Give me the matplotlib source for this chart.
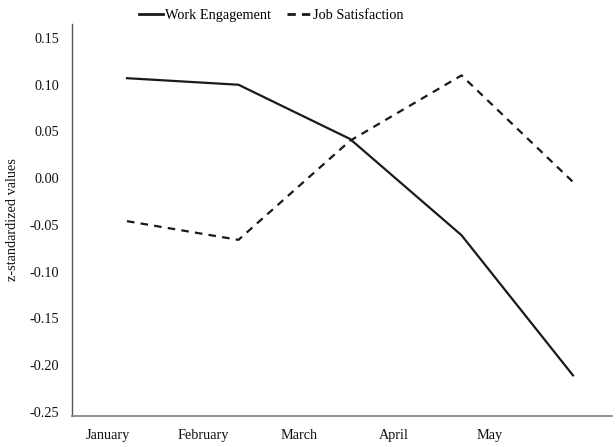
import matplotlib
matplotlib.use("Agg")
import matplotlib.pyplot as plt
from matplotlib.lines import Line2D
import numpy as np

months = ["January", "February", "March", "April", "May"]
work_engagement = [0.107, 0.100, 0.042, -0.061, -0.211]
job_satisfaction = [-0.046, -0.066, 0.040, 0.110, -0.004]
yticks = [0.15, 0.10, 0.05, 0.00, -0.05, -0.10, -0.15, -0.20, -0.25]

plt.rcParams['font.family'] = ['Liberation Serif', 'DejaVu Serif']
plt.rcParams['font.size'] = 10.3

fig = plt.figure(figsize=(6.16, 4.47), dpi=100)
ax = fig.add_axes([72/616, 1-416/447, (612-72)/616, (416-24)/447])

x = np.arange(len(months))
ln1, = ax.plot(x, work_engagement, color='#1a1a1a', lw=1.6, solid_joinstyle='miter')
ln2, = ax.plot(x, job_satisfaction, color='#1a1a1a', lw=1.6, dashes=(3.4, 2.8))

ax.set_xlim(-0.493, 4.35)
ax.set_ylim(-0.2545, 0.165)
ax.set_yticks(yticks)
ax.set_yticklabels([f"{v:.2f}" for v in yticks])
# the tick labels in the reference are spaced more narrowly than the data points
label_pos = -0.17 + 0.855 * x
ax.set_xticks(label_pos)
ax.set_xticklabels(months)
ax.tick_params(axis='both', length=0, colors='#111111', labelsize=10.3)
ax.tick_params(axis='y', pad=9.5)
ax.tick_params(axis='x', pad=9.5)

for s in ['top', 'right']:
    ax.spines[s].set_visible(False)
ax.spines['left'].set_color('#555555')
ax.spines['bottom'].set_color('#888888')
ax.spines['left'].set_linewidth(1.0)
ax.spines['bottom'].set_linewidth(1.3)

ax.set_ylabel("z-standardized values", fontsize=10.3, labelpad=7.5, color='#111111')

h1 = Line2D([], [], color='#1a1a1a', lw=2.0)
h2 = Line2D([], [], color='#1a1a1a', lw=2.0, dashes=(3.0, 2.2))
fig.legend([h1, h2], ["Work Engagement", "Job Satisfaction"], loc='center',
           bbox_to_anchor=(271/616, 1-15/447), ncol=2, frameon=False,
           handlelength=1.7, handletextpad=0.12, columnspacing=1.15, fontsize=10.3)

fig.savefig("out.png", dpi=100)
